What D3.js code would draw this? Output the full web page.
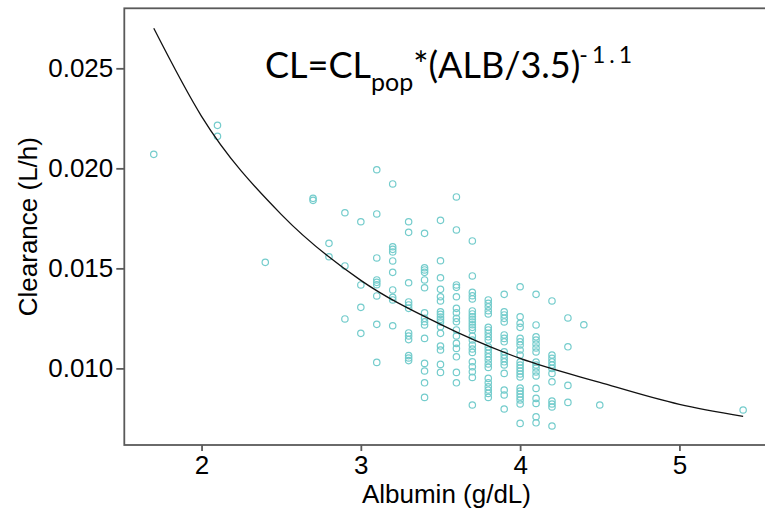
<!DOCTYPE html>
<html>
<head>
<meta charset="utf-8">
<script src="https://cdn.jsdelivr.net/npm/d3@7"></script>
<style>
  body { margin: 0; background: #fff; }
  text { font-family: "Liberation Sans", Arial, sans-serif; }
</style>
</head>
<body>
<svg id="chart" width="765" height="516"></svg>
<script>
// albumin levels (g/dL) and the clearance values observed at each level (L/h)
var albuminLevels = [1.7, 2.1, 2.4, 2.7, 2.8, 2.9, 3.0, 3.1, 3.2, 3.3, 3.4, 3.5, 3.6, 3.7, 3.8, 3.9, 4.0, 4.1, 4.2, 4.3, 4.4, 4.5, 5.4];
var clearanceByLevel = [
  [0.0207],
  [0.02215, 0.0216],
  [0.0153],
  [0.0185, 0.0184],
  [0.01625, 0.01558],
  [0.01778, 0.01512, 0.01247],
  [0.01733, 0.01417, 0.01305, 0.01175],
  [0.01993, 0.01772, 0.01552, 0.01442, 0.0143, 0.01418, 0.01362, 0.0122, 0.0103],
  [0.01922, 0.01608, 0.01595, 0.01582, 0.01537, 0.0148, 0.01392, 0.01355, 0.01342, 0.01213],
  [0.01733, 0.0168, 0.01428, 0.01332, 0.01317, 0.013, 0.01177, 0.01162, 0.01144, 0.01064, 0.01052, 0.01039],
  [0.01675, 0.01503, 0.01492, 0.0148, 0.01442, 0.01403, 0.01278, 0.0125, 0.01233, 0.01217, 0.0115, 0.01025, 0.00987, 0.00928, 0.00855],
  [0.0174, 0.01538, 0.01453, 0.01395, 0.01358, 0.01337, 0.01283, 0.0127, 0.01257, 0.01245, 0.01232, 0.01208, 0.01175, 0.01112, 0.01092, 0.0102, 0.0098],
  [0.01857, 0.01692, 0.01417, 0.01405, 0.01358, 0.013, 0.01278, 0.0125, 0.01233, 0.01192, 0.01162, 0.01125, 0.011, 0.01058, 0.0098, 0.00928],
  [0.01637, 0.01462, 0.0138, 0.01363, 0.01347, 0.01287, 0.01272, 0.01258, 0.01245, 0.01232, 0.01218, 0.01205, 0.01192, 0.01162, 0.01142, 0.01117, 0.01097, 0.0108, 0.01033, 0.01008, 0.00983, 0.00955, 0.00817],
  [0.01342, 0.01325, 0.01308, 0.01288, 0.01272, 0.01205, 0.01192, 0.01175, 0.01158, 0.01142, 0.01108, 0.01092, 0.01075, 0.01058, 0.01042, 0.01022, 0.01005, 0.0095, 0.00928, 0.00908, 0.00892, 0.00875, 0.00855],
  [0.0137, 0.01283, 0.01267, 0.0125, 0.01232, 0.01167, 0.0115, 0.01133, 0.01083, 0.01067, 0.0105, 0.01033, 0.01017, 0.00975, 0.00892, 0.00867, 0.00797],
  [0.01408, 0.01258, 0.01225, 0.01205, 0.0115, 0.01133, 0.01117, 0.01092, 0.01067, 0.01032, 0.01017, 0.01002, 0.00987, 0.00972, 0.00957, 0.00902, 0.00887, 0.00872, 0.00857, 0.00842, 0.00822, 0.00725],
  [0.0137, 0.01217, 0.01158, 0.01142, 0.01122, 0.01102, 0.01082, 0.01032, 0.01017, 0.01002, 0.00982, 0.00962, 0.009, 0.0085, 0.00825, 0.00758, 0.00728],
  [0.01337, 0.01067, 0.0105, 0.01033, 0.01017, 0.01, 0.00975, 0.00933, 0.00837, 0.00822, 0.00807, 0.00712],
  [0.01252, 0.01108, 0.00915, 0.0083],
  [0.01218],
  [0.00817],
  [0.00792]
];

// model curve
var curveAlb = [1.7, 2.0, 2.5, 3.0, 3.5, 4.0, 4.5, 5.0, 5.4];
var curveCL = [0.0270, 0.0226, 0.0177, 0.0144, 0.0122, 0.0105, 0.0093, 0.0082, 0.0076];

var xTicks = [2, 3, 4, 5];
var yTicks = [0.010, 0.015, 0.020, 0.025];

var points = [];
albuminLevels.forEach(function(a, i) {
  clearanceByLevel[i].forEach(function(c) { points.push({alb: a, cl: c}); });
});
var curveData = curveAlb.map(function(a, i) { return {alb: a, cl: curveCL[i]}; });

var pLeft = 124.3, pRight = 772.6, pTop = 8.3, pBottom = 445;

var x = d3.scaleLinear().domain([1.515, 5.585]).range([pLeft, pRight]);
var y = d3.scaleLinear().domain([0.00617, 0.028]).range([pBottom, pTop]);

var svg = d3.select("#chart");

var axisColor = "#5a5a5a";

// panel border
svg.append("rect")
   .attr("x", pLeft).attr("y", pTop)
   .attr("width", pRight - pLeft).attr("height", pBottom - pTop)
   .attr("fill", "none")
   .attr("stroke", axisColor)
   .attr("stroke-width", 1.8);

var xAxis = d3.axisBottom(x).tickValues(xTicks).tickSize(6).tickPadding(5).tickFormat(d3.format("d"));
var yAxis = d3.axisLeft(y).tickValues(yTicks).tickSize(8).tickPadding(3).tickFormat(d3.format(".3f"));

var gx = svg.append("g")
   .attr("class", "x axis")
   .attr("transform", "translate(0," + pBottom + ")")
   .call(xAxis);
var gy = svg.append("g")
   .attr("class", "y axis")
   .attr("transform", "translate(" + pLeft + ",0)")
   .call(yAxis);

[gx, gy].forEach(function(g) {
  g.attr("font-size", 26).attr("font-family", "'Liberation Sans', Arial, sans-serif");
  g.select(".domain").remove();
  g.selectAll(".tick line").attr("stroke", axisColor).attr("stroke-width", 1.8);
  g.selectAll(".tick text").attr("fill", "#000");
});

svg.selectAll("circle.pt").data(points).enter()
   .append("circle")
   .attr("class", "pt")
   .attr("cx", function(d) { return x(d.alb); })
   .attr("cy", function(d) { return y(d.cl); })
   .attr("r", 3.2)
   .attr("fill", "none")
   .attr("stroke", "#74cccc")
   .attr("stroke-width", 1.2);

var line = d3.line()
   .x(function(d) { return x(d.alb); })
   .y(function(d) { return y(d.cl); })
   .curve(d3.curveMonotoneX);

svg.append("path")
   .datum(curveData)
   .attr("d", line)
   .attr("fill", "none")
   .attr("stroke", "#111")
   .attr("stroke-width", 1.3);

// axis titles
svg.append("text")
   .attr("x", (pLeft + pRight) / 2 - 2)
   .attr("y", 503)
   .attr("text-anchor", "middle")
   .style("font-size", "26px")
   .text("Albumin (g/dL)");

svg.append("text")
   .attr("transform", "translate(37," + ((pTop + pBottom) / 2) + ") rotate(-90)")
   .attr("text-anchor", "middle")
   .style("font-size", "26px")
   .text("Clearance (L/h)");

// model equation
var eq = svg.append("text")
   .attr("x", 265)
   .attr("y", 78)
   .style("font-family", "Lato, 'Open Sans', sans-serif")
   .style("font-size", "36px")
   .attr("fill", "#000");
eq.append("tspan").text("CL=CL");
eq.append("tspan").attr("dy", 13).style("font-size", "25px").text("pop");
eq.append("tspan").attr("dy", -13).text("*(ALB/3.5)");
eq.append("tspan").attr("dy", -15).attr("dx", -1).style("font-size", "23px").style("letter-spacing", "4px").text("-1.1");
</script>
</body>
</html>
